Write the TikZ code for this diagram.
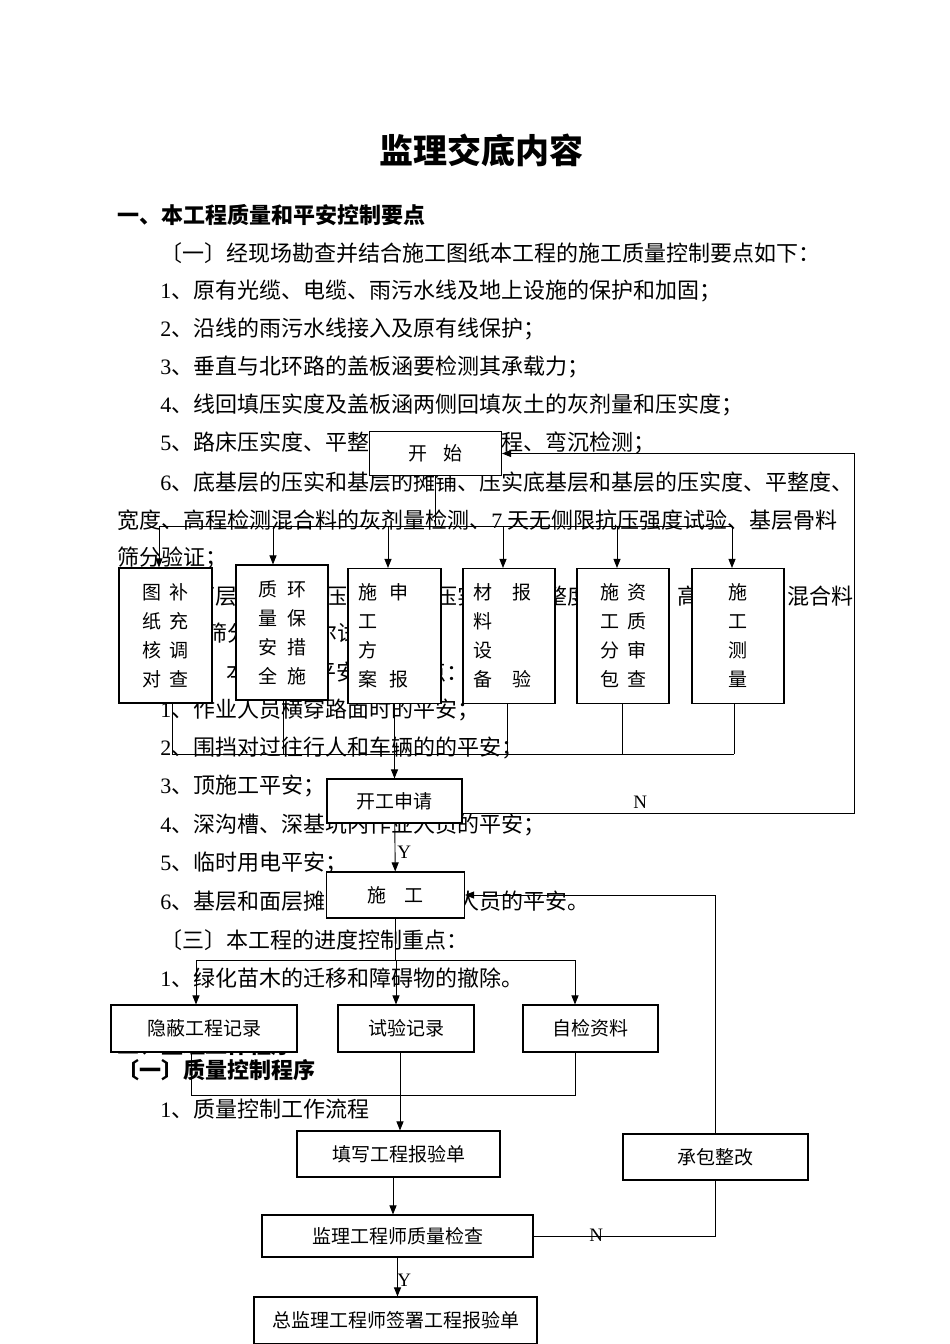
\documentclass[tikz,border=0pt]{standalone}
\usepackage{fontspec}
\setmainfont{Liberation Serif}
\newfontfamily\cjk{Noto Sans CJK SC}
\usetikzlibrary{arrows.meta,calc}
\newcommand\numlat[1]{{\rmfamily #1}}
\newcommand\vrow[1]{\makebox[0pt][l]{#1}}
\tikzset{
  txt/.style={anchor=west, inner sep=0pt, font=\cjk\fontsize{22}{26}\selectfont},
  head/.style={txt, font=\cjk\bfseries\fontsize{22}{26}\selectfont},
  box/.style={draw, fill=white, line width=1.1pt, inner sep=0pt, font=\cjk\fontsize{19}{22}\selectfont},
  vbox/.style={box, minimum height=135pt, align=left, font=\cjk\fontsize{19}{29}\selectfont},
  yn/.style={anchor=west, inner sep=0pt, font=\fontsize{19}{21}\selectfont},
  arr/.style={-{Triangle[length=9pt,width=7pt]}}
}

\begin{document}
\begin{tikzpicture}[x=1pt,y=-1pt,line width=0.9pt]
  \fill[white] (0,0) rectangle (950,1344);
  \useasboundingbox (0,0) rectangle (950,1344);

  % page text
  \node[inner sep=0pt, font=\cjk\bfseries\fontsize{34}{40}\selectfont] (title) at (481,150) {监理交底内容};
  \node[head] (h1) at (117,215) {一、本工程质量和平安控制要点};
  \node[txt] (l1) at (160,253) {〔一〕经现场勘查并结合施工图纸本工程的施工质量控制要点如下：};
  \node[txt] (l2) at (160,291) {\numlat{1}、原有光缆、电缆、雨污水线及地上设施的保护和加固；};
  \node[txt] (l3) at (160,329) {\numlat{2}、沿线的雨污水线接入及原有线保护；};
  \node[txt] (l4) at (160,367) {\numlat{3}、垂直与北环路的盖板涵要检测其承载力；};
  \node[txt] (l5) at (160,405) {\numlat{4}、线回填压实度及盖板涵两侧回填灰土的灰剂量和压实度；};
  \node[txt] (l6) at (160,443) {\numlat{5}、路床压实度、平整度、宽度、高程、弯沉检测；};
  \node[txt] (l7) at (160,482) {\numlat{6}、底基层的压实和基层的摊铺、压实底基层和基层的压实度、平整度、};
  \node[txt] (l8) at (117,520) {宽度、高程检测混合料的灰剂量检测、\numlat{7} 天无侧限抗压强度试验、基层骨料};
  \node[txt] (l9) at (117,558) {筛分验证；};
  \node[txt] (l10) at (160,596) {\numlat{7}、面层的摊铺、压实面层的压实度、平整度、宽度、高程检测、混合料};
  \node[txt] (l11) at (117,634) {油石比、筛分、马歇尔试验；};
  \node[txt] (l12) at (160,672) {〔二〕本工程的平安控制要点：};
  \node[txt] (l13) at (160,710) {\numlat{1}、作业人员横穿路面时的平安；};
  \node[txt] (l14) at (160,748) {\numlat{2}、围挡对过往行人和车辆的的平安；};
  \node[txt] (l15) at (160,786) {\numlat{3}、顶施工平安；};
  \node[txt] (l16) at (160,825) {\numlat{4}、深沟槽、深基坑内作业人员的平安；};
  \node[txt] (l17) at (160,863) {\numlat{5}、临时用电平安；};
  \node[txt] (l18) at (160,901) {\numlat{6}、基层和面层摊铺时施工作业人员的平安。};
  \node[txt] (l19) at (160,940) {〔三〕本工程的进度控制重点：};
  \node[txt] (l20) at (160,978) {\numlat{1}、绿化苗木的迁移和障碍物的撤除。};
  \node[head] (h2) at (117,1045) {二、监理工作程序};
  \node[head] (h3) at (117,1070) {〔一〕质量控制程序};
  \node[txt] (l21) at (160,1109) {\numlat{1}、质量控制工作流程};

  % flow chart boxes
  \node[box, minimum width=132pt, minimum height=44pt] (start) at (435.5,453.5) {开\hspace{16pt}始};
  \node[vbox, minimum width=93pt, inner xsep=23pt, text width=47pt] (tuzhi) at (165.5,635.5)
    {\vrow{图\hspace{9pt}补}\\\vrow{纸\hspace{9pt}充}\\\vrow{核\hspace{9pt}调}\\\vrow{对\hspace{9pt}查}};
  \node[vbox, minimum width=92pt, inner xsep=22.5pt, text width=47pt] (zhiliang) at (282,632.5)
    {\vrow{质\hspace{10pt}环}\\\vrow{量\hspace{10pt}保}\\\vrow{安\hspace{10pt}措}\\\vrow{全\hspace{10pt}施}};
  \node[vbox, minimum width=93pt, inner xsep=10.5pt, text width=72pt] (fangan) at (394.5,636)
    {\vrow{施\hspace{12pt}申}\\工\\方\\\vrow{案\hspace{12pt}报}};
  \node[vbox, minimum width=92pt, inner xsep=10.5pt, text width=71pt] (cailiao) at (509,636)
    {\vrow{材\hspace{20pt}报}\\料\\设\\\vrow{备\hspace{20pt}验}};
  \node[vbox, minimum width=92pt, inner xsep=23.5pt, text width=45pt] (fenbao) at (623,636)
    {\vrow{施\hspace{8pt}资}\\\vrow{工\hspace{8pt}质}\\\vrow{分\hspace{8pt}审}\\\vrow{包\hspace{8pt}查}};
  \node[vbox, minimum width=92pt, inner xsep=36.5pt, text width=19pt] (celiang) at (738,636)
    {施\\工\\测\\量};
  \node[box, minimum width=135pt, minimum height=44pt] (shenqing) at (394.5,801) {开工申请};
  \node[box, minimum width=138pt, minimum height=46pt] (shigong) at (395.5,895) {施\hspace{18pt}工};
  \node[box, minimum width=186pt, minimum height=47pt] (yinbi) at (204,1028.5) {隐蔽工程记录};
  \node[box, minimum width=136pt, minimum height=47pt] (shiyan) at (406,1028.5) {试验记录};
  \node[box, minimum width=135pt, minimum height=47pt] (zijian) at (590.5,1028.5) {自检资料};
  \node[box, minimum width=203pt, minimum height=46pt] (tianxie) at (398.5,1154) {填写工程报验单};
  \node[box, minimum width=185pt, minimum height=46pt] (zhenggai) at (715.5,1157) {承包整改};
  \node[box, minimum width=271pt, minimum height=42pt] (jiancha) at (397.5,1236) {监理工程师质量检查};
  \node[box, minimum width=283pt, minimum height=47pt] (zongjian) at (395.5,1320.5) {总监理工程师签署工程报验单};

  % connectors, upper part
  \coordinate (topbus) at (437,526);
  \coordinate (midbus) at (393,754);
  \coordinate (rloop) at (854,0);
  \draw (start.south) -- (start.south |- topbus);
  \draw ([xshift=-6.5pt]tuzhi.north |- topbus) -- ([xshift=-6pt]celiang.north |- topbus);
  \foreach \n/\dx in {tuzhi/-6.5,zhiliang/-9,fangan/-6.5,cailiao/-6,fenbao/-6,celiang/-6}
    \draw[arr] ([xshift=\dx pt]\n.north |- topbus) -- ([xshift=\dx pt]\n.north);
  \foreach \n/\dx in {tuzhi/6.5,zhiliang/1,cailiao/-2,fenbao/-1,celiang/-4}
    \draw ([xshift=\dx pt]\n.south) -- ([xshift=\dx pt]\n.south |- midbus);
  \draw ([xshift=6.5pt]tuzhi.south |- midbus) -- ([xshift=-4pt]celiang.south |- midbus);
  \draw[arr] (fangan.south) -- (shenqing.north);
  \draw[arr] ([yshift=-12pt]shenqing.east) -| (rloop |- start.east) -- (start.east);
  \node[yn] (nlab1) at (633,802) {N};
  \draw[arr] (shenqing) -- (shigong);
  \node[yn] (ylab1) at (397,852) {Y};

  % connectors, lower part
  \coordinate (lowbus) at (395,960);
  \coordinate (botbus) at (400,1095);
  \draw (shigong.south) -- (shigong.south |- lowbus);
  \draw ([xshift=-8pt]yinbi.north |- lowbus) -- ([xshift=-15.5pt]zijian.north |- lowbus);
  \foreach \n/\dx in {yinbi/-8,shiyan/-10,zijian/-15.5}
    \draw[arr] ([xshift=\dx pt]\n.north |- lowbus) -- ([xshift=\dx pt]\n.north);
  \draw ([xshift=-13pt]yinbi.south) -- ([xshift=-13pt]yinbi.south |- botbus) -- ([xshift=-15.5pt]zijian.south |- botbus) -- ([xshift=-15.5pt]zijian.south);
  \draw[arr] ([xshift=-6pt]shiyan.south) -- ([xshift=-6pt]shiyan.south |- tianxie.north);
  \draw[arr] ([xshift=-5.5pt]tianxie.south) -- ([xshift=-5.5pt]tianxie.south |- jiancha.north);
  \draw[arr] (jiancha.south) -- (jiancha.south |- zongjian.north);
  \node[yn] (ylab2) at (397,1280) {Y};
  \draw (jiancha.east) -| (zhenggai.south);
  \node[yn] (nlab2) at (589,1235) {N};
  \draw[arr] (zhenggai.north) |- (shigong.east);
\end{tikzpicture}
\end{document}
